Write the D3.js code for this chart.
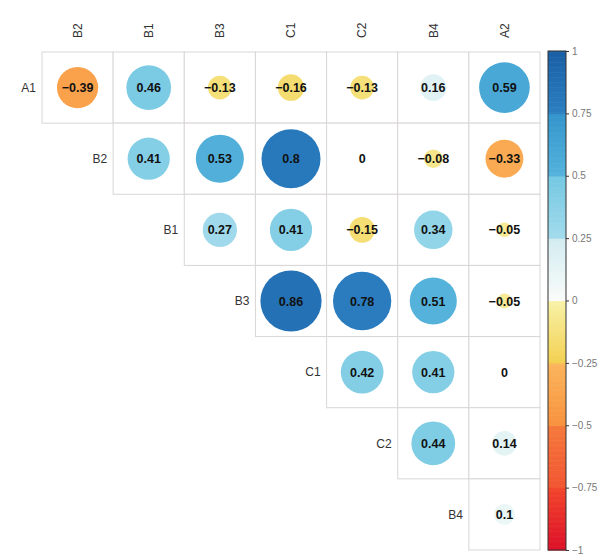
<!DOCTYPE html>
<html>
<head>
<meta charset="utf-8">
<script src="https://cdn.jsdelivr.net/npm/d3@7"></script>
<style>
  body { margin: 0; background: #fff; }
  svg text { font-family: 'Liberation Sans', Arial, sans-serif; }
</style>
</head>
<body>
<div class="container"></div>
<script>
const rowNames = ['A1', 'B2', 'B1', 'B3', 'C1', 'C2', 'B4']
const colNames = ['B2', 'B1', 'B3', 'C1', 'C2', 'B4', 'A2']

// row i starts at column i
const corrA1 = [-0.39, 0.46, -0.13, -0.16, -0.13, 0.16, 0.59]
const corrB2 = [0.41, 0.53, 0.8, 0, -0.08, -0.33]
const corrB1 = [0.27, 0.41, -0.15, 0.34, -0.05]
const corrB3 = [0.86, 0.78, 0.51, -0.05]
const corrC1 = [0.42, 0.41, 0]
const corrC2 = [0.44, 0.14]
const corrB4 = [0.1]
const corrRows = [corrA1, corrB2, corrB1, corrB3, corrC1, corrC2, corrB4]

const legendTicks = [-1, -0.75, -0.5, -0.25, 0, 0.25, 0.5, 0.75, 1]
// each bin from its lower edge colour to its upper edge colour
const binEdges = [-1, -0.75, -0.5, -0.25, 0, 0.25, 0.5, 0.75, 1]
const binLow = ['#dc1029', '#f25532', '#f8923e', '#f3d050', '#fbfcfa', '#a3dbec', '#55b3dc', '#2c80c2']
const binHigh = ['#f2452c', '#f57a3c', '#fbb55c', '#f8f2a8', '#d2ecf0', '#74c8e2', '#3395cc', '#1a5fa5']

function colorOf(v) {
    let i = d3.bisectRight(binEdges, v) - 1
    i = Math.max(0, Math.min(binLow.length - 1, i))
    const t = (v - binEdges[i]) / (binEdges[i + 1] - binEdges[i])
    return d3.interpolateRgb(binLow[i], binHigh[i])(t)
}

const width = 598
const height = 556

const svg = d3.select('.container')
    .append('svg')
    .attr('width', width)
    .attr('height', height)

const xScale = d3.scaleBand().domain(colNames).range([42, 540])
const yScale = d3.scaleBand().domain(rowNames).range([52, 550])
const rScale = d3.scaleSqrt().domain([0, 1]).range([0, 33])

const cells = []
corrRows.forEach((vals, i) => {
    vals.forEach((v, k) => {
        cells.push({ row: rowNames[i], col: colNames[i + k], value: v })
    })
})

const bw = xScale.bandwidth()

const cellG = svg.append('g')

cellG.selectAll('rect')
    .data(cells)
    .enter()
    .append('rect')
    .attr('x', (d) => xScale(d.col))
    .attr('y', (d) => yScale(d.row))
    .attr('width', bw)
    .attr('height', yScale.bandwidth())
    .attr('fill', '#fff')
    .attr('stroke', '#d9d6d6')
    .attr('stroke-width', 1)

cellG.selectAll('circle')
    .data(cells)
    .enter()
    .append('circle')
    .attr('cx', (d) => xScale(d.col) + bw / 2)
    .attr('cy', (d) => yScale(d.row) + yScale.bandwidth() / 2)
    .attr('r', (d) => rScale(Math.abs(d.value)))
    .attr('fill', (d) => colorOf(d.value))

cellG.selectAll('text')
    .data(cells)
    .enter()
    .append('text')
    .attr('x', (d) => xScale(d.col) + bw / 2)
    .attr('y', (d) => yScale(d.row) + yScale.bandwidth() / 2)
    .attr('dy', '0.36em')
    .attr('text-anchor', 'middle')
    .attr('font-size', '12.5px')
    .attr('font-weight', 'bold')
    .attr('fill', '#111')
    .text((d) => d.value < 0 ? '\u2212' + d3.format('')(-d.value) : d3.format('')(d.value))

// row labels sit just left of the first cell in each row
svg.append('g')
    .selectAll('text')
    .data(rowNames)
    .enter()
    .append('text')
    .attr('x', (d, i) => xScale(colNames[i]) - 6)
    .attr('y', (d) => yScale(d) + yScale.bandwidth() / 2)
    .attr('dy', '0.36em')
    .attr('text-anchor', 'end')
    .attr('font-size', '12px')
    .attr('fill', '#333')
    .text((d) => d)

svg.append('g')
    .selectAll('text')
    .data(colNames)
    .enter()
    .append('text')
    .attr('transform', (d) => `translate(${xScale(d) + bw / 2}, 38) rotate(-90)`)
    .attr('dy', '0.36em')
    .attr('text-anchor', 'start')
    .attr('font-size', '12px')
    .attr('fill', '#333')
    .text((d) => d)

// colour bar
const legendScale = d3.scaleLinear().domain([-1, 1]).range([550, 51])
const barX = 548
const barW = 18
const steps = d3.range(-1, 1, 0.005)

const legendG = svg.append('g')

legendG.selectAll('rect')
    .data(steps)
    .enter()
    .append('rect')
    .attr('x', barX)
    .attr('y', (d) => legendScale(d + 0.005))
    .attr('width', barW)
    .attr('height', (d) => legendScale(d) - legendScale(d + 0.005) + 0.6)
    .attr('fill', (d) => colorOf(d + 0.0025))

legendG.append('rect')
    .attr('x', barX)
    .attr('y', legendScale(1))
    .attr('width', barW)
    .attr('height', legendScale(-1) - legendScale(1))
    .attr('fill', 'none')
    .attr('stroke', '#333')
    .attr('stroke-width', 1)

const legendAxis = legendG.append('g')
    .attr('transform', `translate(${barX + barW}, 0)`)
    .call(d3.axisRight(legendScale).tickValues(legendTicks).tickSize(3).tickFormat((d) => d < 0 ? '\u2212' + (-d) : d))

legendAxis.select('.domain').remove()
legendAxis.selectAll('line').attr('stroke', '#333')
legendAxis.selectAll('text')
    .attr('font-size', '10px')
    .attr('fill', '#777')
    .attr('x', 6)
</script>
</body>
</html>
